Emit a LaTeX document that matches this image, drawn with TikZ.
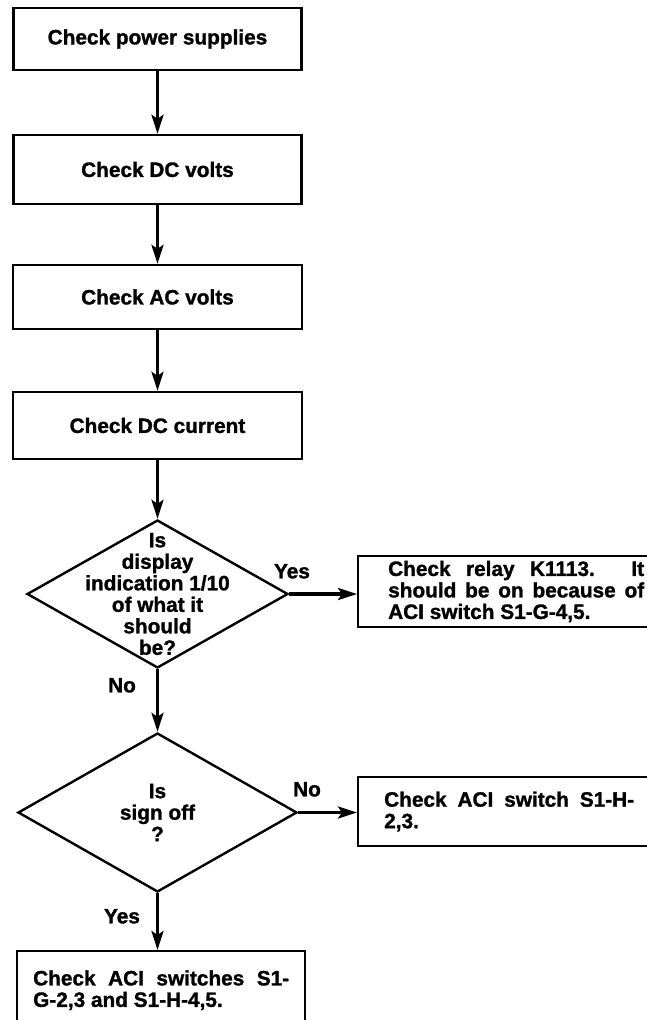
\documentclass[tikz,border=0pt]{standalone}
\usepackage{fontspec}
\setmainfont{Liberation Sans}[BoldFeatures={FakeBold=1.3}]
\usetikzlibrary{shapes.geometric,arrows.meta}
\begin{document}
\begin{tikzpicture}[x=1pt,y=-1pt,
  every node/.style={font=\fontsize{20.8}{21.5}\selectfont\bfseries},
  box/.style={draw, line width=2.4pt, rectangle, inner sep=0pt, align=center},
  jbox/.style={draw, line width=2.4pt, rectangle, inner ysep=0pt, align=justify},
  dia/.style={draw, line width=2.4pt, shape=diamond, inner sep=0pt},
  dtext/.style={align=center, inner sep=0pt},
  lbl/.style={inner sep=0pt, text height=14.7pt, text depth=0pt},
  arr/.style={line width=3.2pt, -{Stealth[length=19pt,width=12pt,inset=4pt]}}
]
\fill[white] (0,0) rectangle (647,1020);
\path[use as bounding box] (0,0) rectangle (647,1020);
\clip (0,0) rectangle (647,1020);

\node[box, minimum width=288pt, minimum height=62pt] (b1) at (157.5,39) {Check power supplies};
\node[box, minimum width=288pt, minimum height=69pt] (b2) at (157.5,169.5) {Check DC volts};
\node[box, minimum width=289pt, minimum height=64pt] (b3) at (157.5,297) {Check AC volts};
\node[box, minimum width=289pt, minimum height=67pt] (b4) at (157.5,425.5) {Check DC current};

\node[dia, minimum width=261pt, minimum height=148pt] (d1) at (157.5,594) {};
\node[dtext] (t1) at (d1.center) {Is\\display\\indication 1/10\\of what it\\should\\be?};

\node[dia, minimum width=279pt, minimum height=159pt] (d2) at (157.5,812.5) {};
\node[dtext] (t2) at (d2.center) {Is\\sign off\\?};

\node[jbox, anchor=west, inner xsep=30pt, text width=256pt, minimum height=71pt] (r1) at (357,591.5)
  {\hyphenpenalty=10000 Check relay K1113. It\linebreak should be on because of\linebreak ACI switch S1-G-4,5.};
\node[jbox, anchor=west, inner xsep=26pt, text width=250pt, minimum height=69pt] (r2) at (357,811.5)
  {\hyphenpenalty=10000 Check ACI switch S1-H-\linebreak 2,3.};
\node[jbox, anchor=north west, inner xsep=16pt, text width=256pt, minimum height=78pt] (r3) at (16,950)
  {\hyphenpenalty=10000 Check ACI switches S1-\linebreak G-2,3 and S1-H-4,5.};

\draw[arr] (b1.south) -- (b2.north);
\draw[arr] (b2.south) -- (b3.north);
\draw[arr] (b3.south) -- (b4.north);
\draw[arr] (b4.south) -- (d1.north);
\draw[arr] (d1.east) -- (d1.east -| r1.west);
\draw[arr] (d1.south) -- (d2.north);
\draw[arr] (d2.east) -- (d2.east -| r2.west);
\draw[arr] (d2.south) -- (d2.south |- r3.north);

\node[lbl] (yes1) at (292,571) {Yes};
\node[lbl] (no1) at (122,685) {No};
\node[lbl] (no2) at (307,789) {No};
\node[lbl] (yes2) at (122,916) {Yes};
\end{tikzpicture}
\end{document}
